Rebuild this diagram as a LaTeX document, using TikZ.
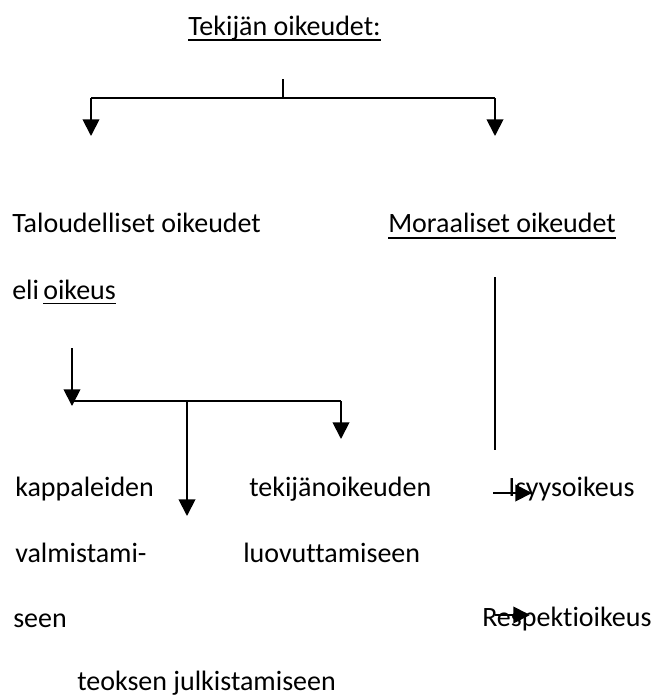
\documentclass[tikz,border=0pt]{standalone}
\usepackage{fontspec}
\setmainfont{Carlito}[Ligatures=NoCommon]
\usetikzlibrary{arrows.meta}

\tikzset{
  txt/.style={anchor=base west,inner sep=0pt,font=\fontsize{21}{24}\selectfont},
  arr/.style={line width=1.4pt,-{Triangle[length=12.5pt,width=12.5pt]}},
  branch/.style={line width=1.4pt},
  uline/.style={line width=1.1pt}
}

\begin{document}
\begin{tikzpicture}[x=0.75pt,y=0.75pt,yscale=-1,xscale=1]
\useasboundingbox (0,0) rectangle (652,697);

% Text Node
\node [txt] (tekija) at (188,35) {Tekijän oikeudet:};
\draw [uline] ([yshift=3.8pt]tekija.base west) -- ([yshift=3.8pt]tekija.base east);
% Text Node
\node [txt] (talous) at (12,232) {Taloudelliset oikeudet};
% Text Node
\node [txt] (moraali) at (388,232) {Moraaliset oikeudet};
\draw [uline] ([yshift=4.5pt]moraali.base west) -- ([yshift=4.5pt]moraali.base east);
% Text Node
\node [txt] (eli) at (12,299) {eli};
\node [txt] (oikeus) at (43,299) {oikeus};
\draw [uline] ([yshift=3.5pt]oikeus.base west) -- ([yshift=3.5pt]oikeus.base east);
% Text Node
\node [txt] (kappale) at (15,496) {kappaleiden};
\node [txt] (valmis) at (15,562) {valmistami-};
\node [txt] (seen) at (13,627) {seen};
% Text Node
\node [txt] (tekoik) at (249,496) {tekijänoikeuden};
\node [txt] (luovutus) at (243,562) {luovuttamiseen};
% Text Node
\node [txt] (julki) at (77,690) {teoksen julkistamiseen};
% Text Node
\node [txt] (isyys) at (508,496) {Isyysoikeus};
\node [txt] (respekti) at (482,626) {Respektioikeus};

%Branch points
\coordinate (top) at (283,79);
\coordinate (topmid) at (283,98);
\coordinate (topl) at (91,98);
\coordinate (topr) at (495,98);
\coordinate (endl) at (91,136);
\coordinate (endr) at (495,136);
\coordinate (ekstart) at (72,348);
\coordinate (ekend) at (72,406);
\coordinate (ekl) at (72,401);
\coordinate (ekm) at (187,401);
\coordinate (ekr) at (341,401);
\coordinate (ekmend) at (187,516);
\coordinate (ekrend) at (341,439);
\coordinate (mtop) at (495,277);
\coordinate (mbot) at (495,450);
\coordinate (isstart) at (493,493);
\coordinate (isend) at (532,493);
\coordinate (restart) at (495,615);
\coordinate (reend) at (530,615);

%Straight Lines
\draw [line width=1pt] (top) -- (topmid);
\draw [branch] (topl) -- (topr);
\draw [arr] (topl) -- (endl);
\draw [arr] (topr) -- (endr);
%Straight Lines
\draw [arr] (ekstart) -- (ekend);
\draw [branch] (ekl) -- (ekr);
\draw [arr] (ekm) -- (ekmend);
\draw [arr] (ekr) -- (ekrend);
%Straight Lines
\draw [line width=1.1pt] (mtop) -- (mbot);
\draw [arr] (isstart) -- (isend);
\draw [arr] (restart) -- (reend);

\end{tikzpicture}
\end{document}
